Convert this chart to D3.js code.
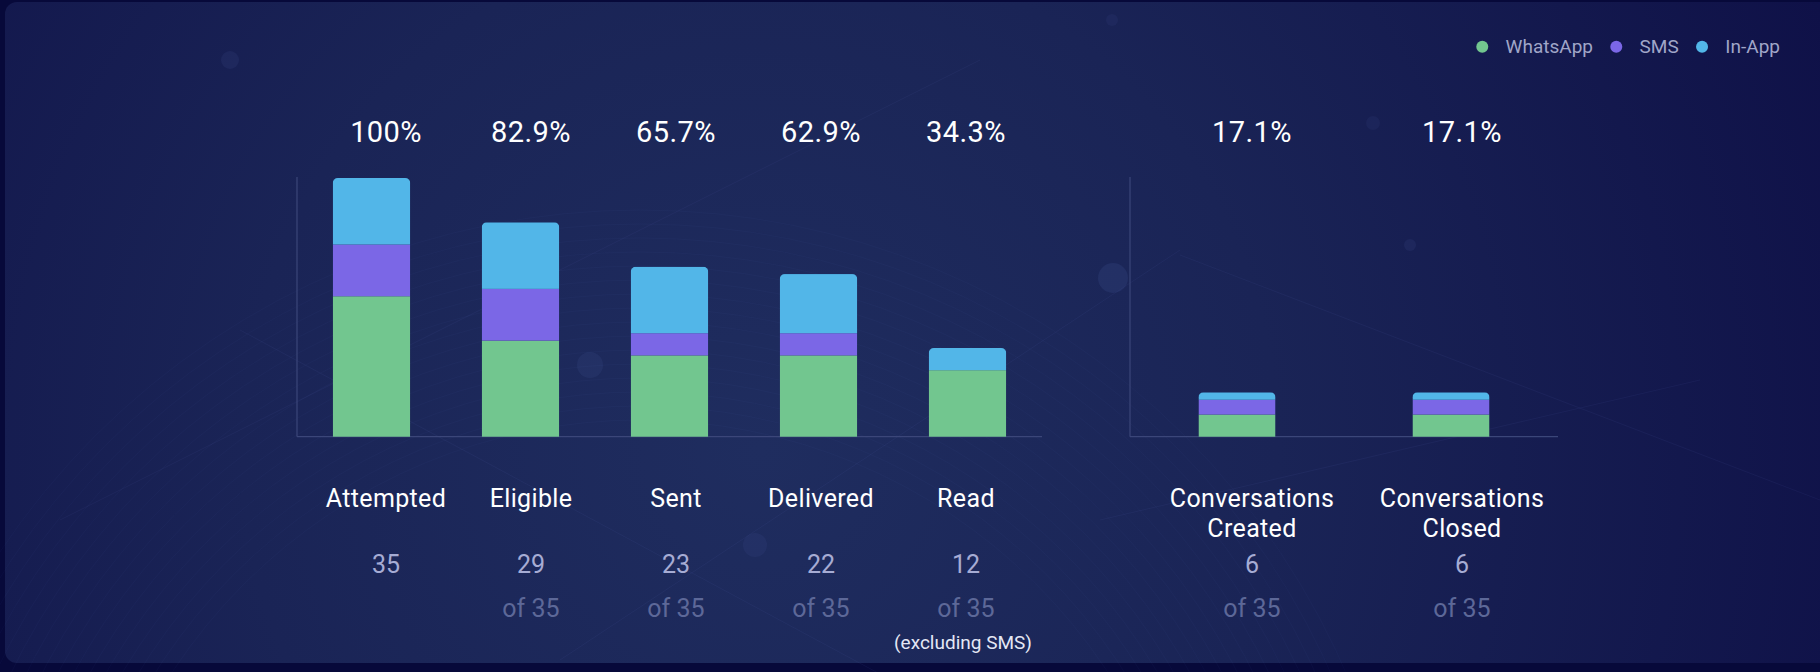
<!DOCTYPE html>
<html>
<head>
<meta charset="utf-8">
<script src="https://cdn.jsdelivr.net/npm/d3@7"></script>
<style>
  html, body { margin: 0; padding: 0; background: #07093a; }
  svg { display: block; font-family: Roboto, "Noto Sans", sans-serif; }
</style>
</head>
<body>
<svg id="chart" width="1820" height="672"></svg>
<script>
// ---- data ----
const funnelCategories = ["Attempted", "Eligible", "Sent", "Delivered", "Read"];
const convCategories = ["Conversations\nCreated", "Conversations\nClosed"];
const seriesNames = ["WhatsApp", "SMS", "In-App"];
const whatsappFunnel = [19, 13, 11, 11, 9];
const smsFunnel      = [7, 7, 3, 3, 0];
const inAppFunnel    = [9, 9, 9, 8, 3];
const whatsappConv = [3, 3];
const smsConv      = [2, 2];
const inAppConv    = [1, 1];
const totalAttempted = 35;
const funnelNotes = ["", "", "", "", "(excluding SMS)"];

// ---- styles ----
const colors = { "WhatsApp": "#72c68f", "SMS": "#7b67e6", "In-App": "#52b6e8" };
const W = 1820, H = 672;
const svg = d3.select("#chart");
const defs = svg.append("defs");

// background panel
const rg = defs.append("radialGradient").attr("id", "bg")
  .attr("gradientUnits", "userSpaceOnUse").attr("cx", 760).attr("cy", 450).attr("r", 1150);
rg.append("stop").attr("offset", "0%").attr("stop-color", "#1f2d5f");
rg.append("stop").attr("offset", "45%").attr("stop-color", "#1a2456");
rg.append("stop").attr("offset", "100%").attr("stop-color", "#0f1148");
svg.append("rect").attr("width", W).attr("height", H).attr("fill", "#07093a");
svg.append("rect").attr("x", 5).attr("y", 2).attr("width", W + 20).attr("height", 661)
  .attr("rx", 12).attr("fill", "url(#bg)");

// subtle decorative texture
const deco = svg.append("g").attr("fill", "none").attr("stroke", "#6f86d8");
d3.range(16).forEach(i => {
  deco.append("circle").attr("cx", 640).attr("cy", 980).attr("r", 560 + i * 14)
    .attr("stroke-opacity", 0.035);
});
[[240, 330, 1040, 760], [560, 660, 1180, 250], [60, 520, 980, 60], [1100, 520, 1700, 380], [1180, 255, 1820, 500]]
  .forEach(l => deco.append("line").attr("x1", l[0]).attr("y1", l[1]).attr("x2", l[2]).attr("y2", l[3])
    .attr("stroke-opacity", 0.07));
const dots = [[230, 60, 9, 0.08], [590, 365, 13, 0.08], [755, 545, 12, 0.07], [1113, 278, 15, 0.1], [1410, 245, 6, 0.08], [1373, 123, 7, 0.06], [1112, 20, 6, 0.06]];
svg.append("g").selectAll("circle").data(dots).join("circle")
  .attr("cx", d => d[0]).attr("cy", d => d[1]).attr("r", d => d[2])
  .attr("fill", "#6f86d8").attr("fill-opacity", d => d[3]);

// ---- scales ----
const y = d3.scaleLinear().domain([0, totalAttempted]).range([436.7, 178]);
const xLeft = d3.scaleBand().domain(funnelCategories).range([297, 1042]).paddingInner(0.48).paddingOuter(0.24);
const xRight = d3.scaleBand().domain(convCategories).range([1130, 1558]).paddingInner(0.64).paddingOuter(0.32);
const tLeft = d3.scaleBand().domain(funnelCategories).range([313.5, 1038.5]);
const tRight = d3.scaleBand().domain(convCategories).range([1147, 1567]);

function buildRows(cats, wa, sms, ia) {
  return cats.map((c, i) => ({ cat: c, "WhatsApp": wa[i], "SMS": sms[i], "In-App": ia[i] }));
}
const leftRows = buildRows(funnelCategories, whatsappFunnel, smsFunnel, inAppFunnel);
const rightRows = buildRows(convCategories, whatsappConv, smsConv, inAppConv);
const stack = d3.stack().keys(seriesNames);

function drawGroup(rows, x, tx, idPrefix, notes) {
  const g = svg.append("g");
  const x0 = x.range()[0], x1 = x.range()[1];
  g.append("line").attr("x1", x0).attr("x2", x0).attr("y1", y(totalAttempted) - 1).attr("y2", y(0))
    .attr("stroke", "#3b4679").attr("stroke-width", 1.2);
  g.append("line").attr("x1", x0).attr("x2", x1).attr("y1", y(0)).attr("y2", y(0))
    .attr("stroke", "#3b4679").attr("stroke-width", 1.2);

  const series = stack(rows);
  rows.forEach((r, i) => {
    const total = seriesNames.reduce((s, k) => s + r[k], 0);
    const cid = idPrefix + i;
    defs.append("clipPath").attr("id", cid).append("rect")
      .attr("x", x(r.cat)).attr("width", x.bandwidth())
      .attr("y", y(total)).attr("height", y(0) - y(total) + 10).attr("rx", 5);
    const bar = g.append("g").attr("clip-path", `url(#${cid})`);
    series.forEach(s => {
      const d = s[i];
      if (d[1] - d[0] <= 0) return;
      bar.append("rect").attr("x", x(r.cat)).attr("width", x.bandwidth())
        .attr("y", y(d[1])).attr("height", y(d[0]) - y(d[1]))
        .attr("fill", colors[s.key]);
    });
    const cx = tx(r.cat) + tx.bandwidth() / 2;
    const pct = total / totalAttempted * 100;
    g.append("text").attr("x", cx).attr("y", 141.5).attr("text-anchor", "middle")
      .attr("font-size", 29).attr("letter-spacing", 0.4).attr("fill", "#ffffff")
      .text(pct === 100 ? "100%" : pct.toFixed(1) + "%");
    const lines = r.cat.split("\n");
    lines.forEach((ln, j) => {
      g.append("text").attr("x", cx).attr("y", 507.3 + j * 29.4).attr("text-anchor", "middle")
        .attr("font-size", 25).attr("letter-spacing", 0.35).attr("fill", "#ffffff").text(ln);
    });
    g.append("text").attr("x", cx).attr("y", 572.7).attr("text-anchor", "middle")
      .attr("font-size", 25).attr("fill", "#a6acd4").text(total);
    if (i > 0 || total !== totalAttempted) {
      g.append("text").attr("x", cx).attr("y", 616.7).attr("text-anchor", "middle")
        .attr("font-size", 25).attr("fill", "#5d6898").text("of " + totalAttempted);
    }
    if (notes && notes[i]) {
      g.append("text").attr("x", cx - 3).attr("y", 649).attr("text-anchor", "middle")
        .attr("font-size", 19).attr("fill", "#e4e7f5").text(notes[i]);
    }
  });
}
drawGroup(leftRows, xLeft, tLeft, "clipL", funnelNotes);
drawGroup(rightRows, xRight, tRight, "clipR", null);

// ---- legend (right-aligned) ----
const legend = svg.append("g");
const items = seriesNames.map(n => {
  const t = legend.append("text").attr("font-size", 19).attr("fill", "#a0a6c8").attr("y", 52.5).text(n);
  return { n, t, w: t.node().getComputedTextLength() };
});
let xr = 1780;
for (let i = items.length - 1; i >= 0; i--) {
  const it = items[i];
  it.t.attr("x", xr - it.w);
  const cx = xr - it.w - 23.3;
  legend.append("circle").attr("cx", cx).attr("cy", 46.7).attr("r", 6).attr("fill", colors[it.n]);
  xr = cx - 23.3;
}
</script>
</body>
</html>
